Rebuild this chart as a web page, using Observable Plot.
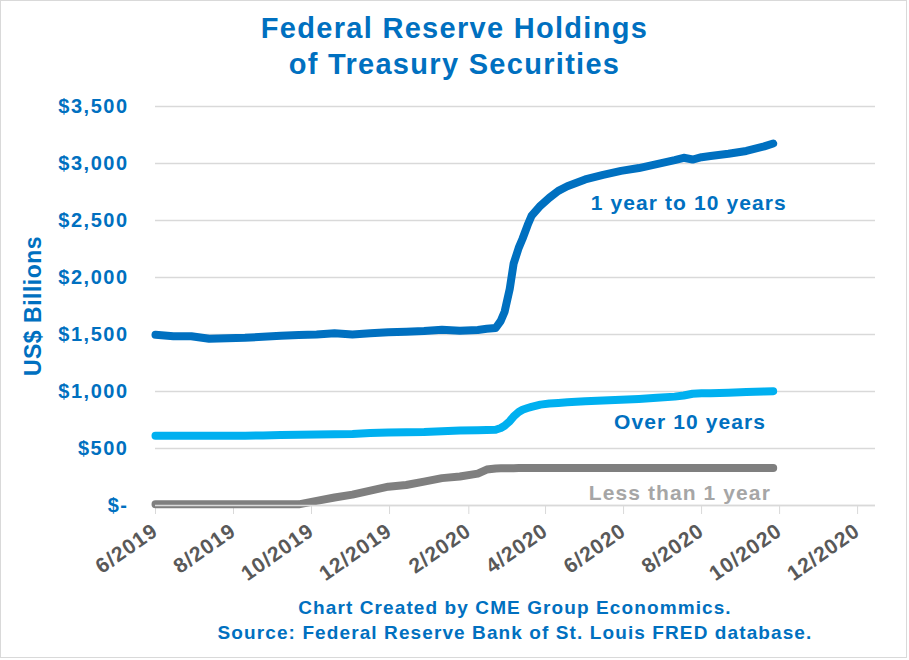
<!DOCTYPE html>
<html>
<head>
<meta charset="utf-8">
<script src="https://cdn.jsdelivr.net/npm/d3@7"></script>
<script src="https://cdn.jsdelivr.net/npm/@observablehq/plot@0.6"></script>
<style>
  html, body { margin: 0; padding: 0; background: #fff; }
  body { width: 909px; height: 660px; position: relative; overflow: hidden; font-family: "Liberation Sans", Arial, sans-serif; }
  #frame { position: absolute; left: 0; top: 0; width: 907px; height: 658px; box-sizing: border-box; border: 1.5px solid #d9d9d9; }
  #title { position: absolute; left: 0; top: 10px; width: 909px; text-align: center; color: #0070c0; font-weight: bold; font-size: 29px; line-height: 36px; letter-spacing: 1.3px; }
  #chart { position: absolute; left: 0; top: 82px; }
  #caption { position: absolute; left: 121px; top: 595px; width: 788px; text-align: center; color: #0070c0; font-weight: bold; font-size: 19px; line-height: 25px; letter-spacing: 1.1px; }
</style>
</head>
<body>
<div id="frame"></div>
<div id="title">Federal Reserve Holdings<br>of Treasury Securities</div>
<div id="chart"></div>
<div id="caption">Chart Created by CME Group Econommics.<br>Source: Federal Reserve Bank of St. Louis FRED database.</div>
<script>
// ---- data (US$ billions) ----
const dates = [
  "2019-06-01","2019-06-15","2019-06-29","2019-07-13","2019-07-27","2019-08-10","2019-08-24",
  "2019-09-07","2019-09-21","2019-10-05","2019-10-19","2019-11-02","2019-11-16","2019-11-30",
  "2019-12-14","2019-12-28","2020-01-11","2020-01-25","2020-02-08","2020-02-15","2020-02-22",
  "2020-02-26","2020-02-29","2020-03-04","2020-03-07","2020-03-11","2020-03-14","2020-03-18",
  "2020-03-21","2020-03-28","2020-04-04","2020-04-11","2020-04-18","2020-05-02","2020-05-16",
  "2020-05-30","2020-06-13","2020-06-27","2020-07-11","2020-07-18","2020-07-25","2020-08-01",
  "2020-08-08","2020-08-22","2020-09-05","2020-09-19","2020-09-26"
];
const oneToTenYears = [
  1497,1485,1485,1462,1468,1472,1480,
  1490,1495,1500,1511,1500,1510,1520,
  1525,1530,1541,1532,1540,1550,1557,
  1620,1700,1900,2120,2260,2340,2460,
  2540,2630,2700,2760,2800,2860,2900,
  2935,2960,2995,3030,3050,3035,3055,
  3065,3085,3110,3150,3175
];
const overTenYears = [
  612,612,612,612,612,612,614,
  618,620,622,625,628,635,640,
  643,645,652,658,660,662,665,
  680,700,740,780,820,840,855,
  865,885,895,900,905,915,920,
  928,935,945,955,965,980,985,
  985,990,995,1000,1003
];
const lessThanOneYear = [
  10,10,10,10,10,10,10,
  10,10,40,70,95,130,165,
  180,210,240,255,280,315,325,
  326,327,327,327,328,328,328,
  328,328,328,328,328,328,328,
  328,328,328,328,328,328,328,
  328,328,328,328,328
];
const yTicks = [0, 500, 1000, 1500, 2000, 2500, 3000, 3500];
const yTickLabels = ["$-", "$500", "$1,000", "$1,500", "$2,000", "$2,500", "$3,000", "$3,500"];
const xTicks = ["2019-06-01","2019-08-01","2019-10-01","2019-12-01","2020-02-01","2020-04-01","2020-06-01","2020-08-01","2020-10-01","2020-12-01"];
const xTickLabels = ["6/2019","8/2019","10/2019","12/2019","2/2020","4/2020","6/2020","8/2020","10/2020","12/2020"];
const yAxisTitle = "US$ Billions";
const seriesNames = ["1 year to 10 years", "Over 10 years", "Less than 1 year"];
const seriesColors = ["#0070c0", "#00b0f0", "#7f7f7f"];
const labelColors = ["#0070c0", "#0070c0", "#a6a6a6"];
const labelDates = ["2020-07-22", "2020-07-23", "2020-07-15"];
const labelValues = [2649, 732, 105];

const series = [oneToTenYears, overTenYears, lessThanOneYear];
const toRows = (vals) => dates.map((d, i) => ({date: new Date(d), value: vals[i]}));
const xTickDates = xTicks.map(d => new Date(d));

const lineMarks = series.map((vals, k) =>
  Plot.line(toRows(vals), {
    x: "date", y: "value", stroke: seriesColors[k], strokeWidth: 8,
    strokeLinecap: "round", strokeLinejoin: "round"
  })
);
const labelMarks = seriesNames.map((name, k) =>
  Plot.text([{date: new Date(labelDates[k]), value: labelValues[k], label: name}], {
    x: "date", y: "value", text: "label", fill: labelColors[k],
    fontSize: 21, fontWeight: "bold", textAnchor: "middle"
  })
);

const chart = Plot.plot({
  width: 909,
  height: 513,
  marginLeft: 155,
  marginRight: 34,
  marginTop: 24,
  marginBottom: 90,
  style: {fontFamily: "'Liberation Sans', Arial, sans-serif", background: "transparent", overflow: "visible"},
  x: {type: "utc", domain: [new Date("2019-06-01"), new Date("2020-12-15")]},
  y: {domain: [0, 3500]},
  marks: [
    Plot.gridY(yTicks, {stroke: "#d9d9d9", strokeOpacity: 1, strokeWidth: 1.3}),
    Plot.axisY(yTicks, {
      tickSize: 0, tickPadding: 27, label: yAxisTitle, labelAnchor: "center",
      labelOffset: 131, fill: "#0070c0", fontSize: 20, fontWeight: "bold",
      tickFormat: d => yTickLabels[yTicks.indexOf(d)]
    }),
    Plot.axisX(xTickDates, {
      tickSize: 9, tickPadding: 14, tickRotate: -35, stroke: "#d9d9d9",
      fill: "#595959", fontSize: 21, fontWeight: "bold", label: null,
      tickFormat: d => xTickLabels[xTickDates.findIndex(t => +t === +d)]
    }),
    ...lineMarks,
    Plot.ruleY([0], {stroke: "#d9d9d9", strokeWidth: 1.5}),
    ...labelMarks
  ]
});
document.getElementById("chart").appendChild(chart);

const svg = d3.select(chart);
svg.selectAll("g[aria-label='y-axis tick label'] text").style("letter-spacing", "1.5px");
svg.selectAll("g[aria-label='x-axis tick label'] text").style("letter-spacing", "1px");
svg.selectAll("g[aria-label='y-axis label'] text")
  .text(yAxisTitle)
  .style("font-size", "23px").style("font-weight", "bold").style("fill", "#0070c0").style("letter-spacing", "0.5px");
svg.selectAll("g[aria-label='text'] text").style("letter-spacing", "1.1px");
</script>
</body>
</html>
